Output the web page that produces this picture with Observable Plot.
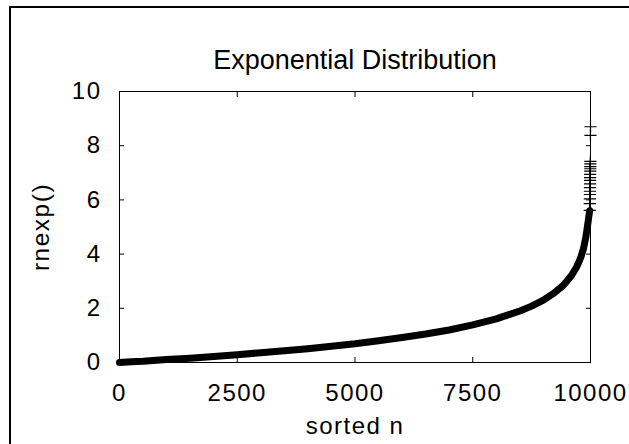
<!DOCTYPE html>
<html><head><meta charset="utf-8">
<script src="https://cdn.jsdelivr.net/npm/d3@7"></script>
<script src="https://cdn.jsdelivr.net/npm/@observablehq/plot@0.6"></script>
<style>
html,body{margin:0;padding:0;background:#fff;}
#wrap{position:relative;width:629px;height:444px;overflow:hidden;}
#outer{position:absolute;left:9px;top:6px;width:800px;height:600px;border-left:2px solid #000;border-top:2px solid #000;box-sizing:border-box;}
#chart{position:absolute;left:0;top:0;}
#chart svg text{letter-spacing:1.5px;}
</style></head>
<body><div id="wrap"><div id="outer"></div><div id="chart"></div></div>
<script>
const titleText = "Exponential Distribution";
const xLabel = "sorted n";
const yLabel = "rnexp()";
const xTicks = [0, 2500, 5000, 7500, 10000];
const yTicks = [0, 2, 4, 6, 8, 10];
// bulk of the sorted samples
const sortedN = [0, 250, 500, 1000, 1500, 2000, 2500, 3000, 3500, 4000, 4500, 5000, 5500, 6000, 6500, 7000, 7500, 8000, 8500, 8750, 9000, 9200, 9400, 9500, 9600, 9700, 9750, 9800, 9850, 9900, 9930, 9950, 9965, 9983];
const rnexpVals = [0, 0.03, 0.05, 0.11, 0.16, 0.22, 0.29, 0.36, 0.43, 0.51, 0.60, 0.69, 0.80, 0.92, 1.05, 1.20, 1.39, 1.61, 1.90, 2.08, 2.30, 2.53, 2.81, 3.00, 3.22, 3.51, 3.69, 3.91, 4.20, 4.61, 4.96, 5.20, 5.40, 5.60];
// sparse tail (individual + markers)
const tailN = [9984, 9985, 9986, 9987, 9988, 9989, 9990, 9991, 9992, 9993, 9994, 9995, 9996, 9997, 9998, 9999, 10000];
const tailVals = [5.61, 5.86, 6.04, 6.20, 6.32, 6.45, 6.59, 6.72, 6.82, 6.94, 7.06, 7.15, 7.23, 7.33, 7.42, 8.38, 8.70];

const bulk = sortedN.map((n, i) => ({n, v: rnexpVals[i]}));
const tail = tailN.map((n, i) => ({n, v: tailVals[i]}));

const font = '"Liberation Sans", Arial, sans-serif';
const plot = Plot.plot({
  width: 629, height: 444,
  marginLeft: 119, marginRight: 39, marginTop: 91, marginBottom: 82,
  style: {fontFamily: font, background: "transparent", color: "#000", overflow: "visible"},
  x: {domain: [0, 10000], axis: null},
  y: {domain: [0, 10], axis: null},
  marks: [
    Plot.frame({stroke: "#000", strokeWidth: 1}),
    Plot.axisX(xTicks, {anchor: "bottom", tickSize: -5, text: null, label: null, stroke: "#000"}),
    Plot.axisX(xTicks.slice(1, -1), {anchor: "top", tickSize: -5, text: null, label: null, stroke: "#000"}),
    Plot.axisY(yTicks, {anchor: "left", tickSize: -5, text: null, label: null, stroke: "#000"}),
    Plot.axisY(yTicks.slice(1, -1), {anchor: "right", tickSize: -5, text: null, label: null, stroke: "#000"}),
    Plot.axisX(xTicks, {anchor: "bottom", tickSize: 0, tickPadding: 21, fontSize: 24, label: null, tickFormat: d => String(d)}),
    Plot.axisY(yTicks, {anchor: "left", tickSize: 0, tickPadding: 18, fontSize: 24, label: null, tickFormat: d => String(d)}),
    Plot.line(bulk, {x: "n", y: "v", stroke: "#000", strokeWidth: 7, strokeLinecap: "round", strokeLinejoin: "round"}),
    Plot.dot(tail, {x: "n", y: "v", symbol: "plus", r: 4, stroke: "#000", strokeWidth: 1.2}),
    Plot.text([titleText], {frameAnchor: "top", dy: -42, fontSize: 27, fill: "#000"}),
    Plot.text([xLabel], {frameAnchor: "bottom", dy: 71, fontSize: 24, fill: "#000"}),
    Plot.text([yLabel], {frameAnchor: "left", textAnchor: "middle", dx: -78, rotate: -90, fontSize: 24.5, fill: "#000"})
  ]
});
document.getElementById("chart").appendChild(plot);
d3.select(plot).selectAll("text").filter(function () { return this.textContent === titleText; }).style("letter-spacing", "0px");
</script>
</body></html>
